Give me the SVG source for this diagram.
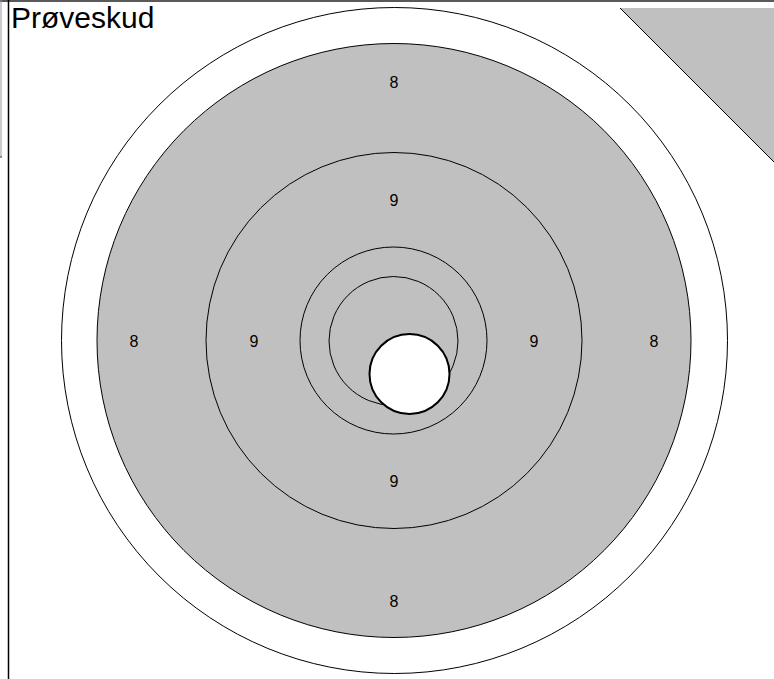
<svg xmlns="http://www.w3.org/2000/svg" width="774" height="679" viewBox="0 0 774 679">
<style>
.ring{fill:none;stroke:#000;stroke-width:1}
.lbl{font-family:"Liberation Sans",Arial,sans-serif;font-size:16px;fill:#000;text-anchor:middle}
</style>
<rect width="774" height="679" fill="#fff"/>
<g id="frame">
<line x1="0" y1="1" x2="774" y2="1" stroke="#222" stroke-width="1.5"/>
<line x1="1" y1="0" x2="1" y2="157" stroke="#999" stroke-width="1"/>
<line x1="0" y1="157" x2="2" y2="157" stroke="#333" stroke-width="1"/>
<line x1="8.5" y1="0" x2="8.5" y2="679" stroke="#000" stroke-width="1.5"/>
</g>
<g id="corner">
<polygon points="620,8 774,8 774,162" fill="#c0c0c0"/>
<line x1="620" y1="8" x2="774" y2="162" stroke="#000" stroke-width="1"/>
</g>
<g id="target">
<circle class="ring" cx="394.5" cy="340.5" r="333"/>
<circle cx="394" cy="340.5" r="297" fill="#c0c0c0" stroke="#000" stroke-width="1"/>
<circle class="ring" cx="394" cy="340.5" r="188"/>
<circle class="ring" cx="393.5" cy="340.5" r="93.5"/>
<circle class="ring" cx="393.5" cy="341" r="64.5"/>
</g>
<g id="shot">
<circle cx="409.5" cy="374" r="40" fill="#fff" stroke="#000" stroke-width="2"/>
</g>
<g id="labels">
<text class="lbl" x="394" y="88">8</text>
<text class="lbl" x="134" y="347">8</text>
<text class="lbl" x="654" y="347">8</text>
<text class="lbl" x="394" y="607">8</text>
<text class="lbl" x="394" y="206">9</text>
<text class="lbl" x="254" y="347">9</text>
<text class="lbl" x="534" y="347">9</text>
<text class="lbl" x="394" y="487">9</text>
</g>
<g id="title">
<text x="11" y="28" style="font-family:'Liberation Sans',Arial,sans-serif;font-size:30px;fill:#000">Prøveskud</text>
</g>
</svg>
